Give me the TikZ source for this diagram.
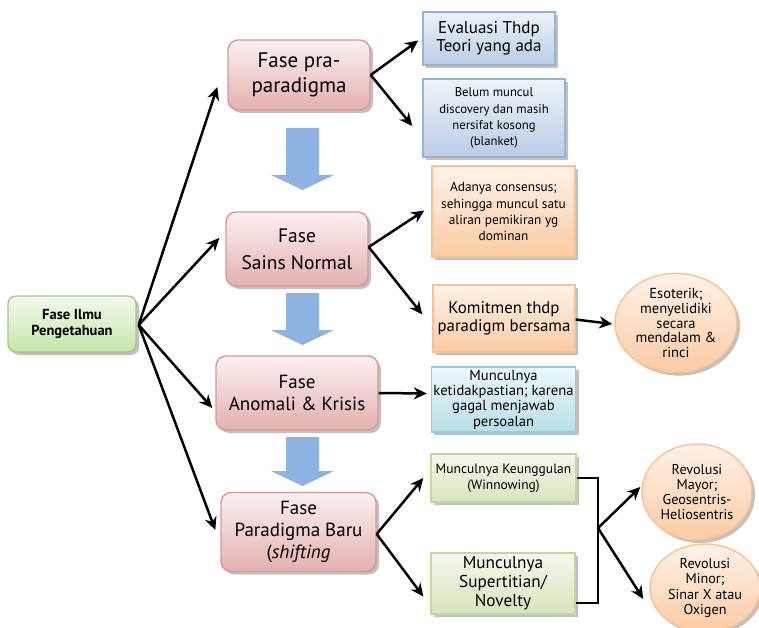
\documentclass[tikz,border=0pt]{standalone}
\usepackage{fontspec}
\setmainfont{PT Sans}
\usetikzlibrary{shadows,arrows.meta,shapes.geometric,calc}
\definecolor{pinkB}{HTML}{D99694}\definecolor{pinkT}{HTML}{FBF1F1}\definecolor{pinkM}{HTML}{E3B0AF}
\definecolor{blueB}{HTML}{95B3D7}\definecolor{blueT}{HTML}{EEF3F9}\definecolor{blueM}{HTML}{B9CDE5}
\definecolor{orgB}{HTML}{FAC090}\definecolor{orgT}{HTML}{FEF2E8}\definecolor{orgM}{HTML}{FBCBA3}
\definecolor{grnB}{HTML}{C3D69B}\definecolor{grnT}{HTML}{F4F8EC}\definecolor{grnM}{HTML}{D7E4BD}
\definecolor{cyaB}{HTML}{93CDDD}\definecolor{cyaT}{HTML}{EEF8FA}\definecolor{cyaM}{HTML}{B7DEE8}
\definecolor{bigArr}{HTML}{8DB3E2}
\newcommand\myfsz[2]{\fontsize{#1}{\fpeval{#1*#2}}\selectfont}
\tikzset{
  shade/.style={drop shadow={shadow xshift=3pt,shadow yshift=-3pt,fill=black!35,opacity=0.7}},
  base/.style={shade,align=center,inner sep=2pt,line width=1.4pt},
  phase/.style={base,rounded corners=10pt,draw=pinkB,top color=pinkT,bottom color=pinkM},
  rootbox/.style={base,rounded corners=8pt,draw=grnB!90!black,top color=grnT,bottom color=grnM!90!green},
  bluebox/.style={base,draw=blueB,top color=blueT,bottom color=blueM},
  orgbox/.style={base,draw=orgB,top color=orgT,bottom color=orgM},
  grnbox/.style={base,draw=grnB,top color=grnT,bottom color=grnM},
  cyabox/.style={base,draw=cyaB,top color=cyaT,bottom color=cyaM},
  oval/.style={base,ellipse,draw=orgB,top color=orgT,bottom color=orgM,inner sep=0pt},
  conn/.style={line width=2.5pt,-{Stealth[length=13pt,width=12pt]}},
  brk/.style={line width=1.8pt},
  fs/.style n args={2}{font=\myfsz{#1}{#2}}
}
\begin{document}
\begin{tikzpicture}[x=1pt,y=-1pt]
\useasboundingbox (0,0) rectangle (759,628);
% big blue arrows
\foreach \t/\b in {128/190,293/345,437/486}{
  \fill[bigArr] (286,\t) -- (319,\t) -- (319,\b-15) -- (334,\b-15) -- (302.5,\b) -- (271,\b-15) -- (286,\b-15) -- cycle;
}
\node[rootbox,minimum width=128pt,minimum height=56pt,font={\bfseries\myfsz{14.5}{1.08}}] (root) at (72,324) {Fase Ilmu\\Pengetahuan};
\node[phase,minimum width=142pt,minimum height=70pt,fs={21}{1.2}] (pra) at (299,75) {Fase pra-\\paradigma};
\node[phase,minimum width=142pt,minimum height=74pt,fs={19.5}{1.38}] (sains) at (297,249) {Fase\\Sains Normal};
\node[phase,minimum width=162pt,minimum height=74pt,fs={19}{1.2}] (anom) at (297,393) {Fase\\Anomali \& Krisis};
\node[phase,minimum width=155pt,minimum height=79pt,fs={19}{1.18}] (baru) at (298.5,532) {Fase\\Paradigma Baru\\(\textit{shifting}};
\node[bluebox,minimum width=132pt,minimum height=53pt,fs={17}{1.06}] (eval) at (489,38.5) {Evaluasi Thdp\\Teori yang ada};
\node[bluebox,minimum width=142pt,minimum height=78pt,fs={12.7}{1.27}] (belum) at (494,118) {Belum muncul\\discovery dan masih\\nersifat kosong\\(blanket)};
\node[orgbox,minimum width=143pt,minimum height=91pt,fs={13.3}{1.22}] (adanya) at (503.5,211.5) {Adanya consensus;\\sehingga muncul satu\\aliran pemikiran yg\\dominan};
\node[orgbox,minimum width=142pt,minimum height=67pt,fs={16.8}{1.07}] (komit) at (504,318.5) {Komitmen thdp\\paradigm bersama};
\node[oval,minimum width=122pt,minimum height=96pt,fs={14.5}{1.03}] (eso) at (676,323) {Esoterik;\\menyelidiki\\secara\\mendalam \&\\rinci};
\node[cyabox,minimum width=143pt,minimum height=65pt,fs={14.6}{1.05}] (ketid) at (503.5,399.5) {Munculnya\\ketidakpastian; karena\\gagal menjawab\\persoalan};
\node[grnbox,minimum width=145pt,minimum height=48pt,fs={13.5}{1.18}] (unggul) at (503.5,478) {Munculnya Keunggulan\\(Winnowing)};
\node[grnbox,minimum width=144pt,minimum height=61pt,fs={17.2}{1.1}] (super) at (503,583.5) {Munculnya\\Supertitian/\\Novelty};
\node[oval,minimum width=110pt,minimum height=96pt,fs={14.2}{1.07}] (mayor) at (697,492) {Revolusi\\Mayor;\\Geosentris-\\Heliosentris};
\node[oval,minimum width=110pt,minimum height=88pt,fs={14.2}{1.07}] (minor) at (705,588) {Revolusi\\Minor;\\Sinar X atau\\Oxigen};
% connectors
\coordinate (rO) at ($(root.east)+(2,1)$);
\draw[conn] (rO) -- ([xshift=-10pt,yshift=-12pt]pra.west);
\draw[conn] (rO) -- ([xshift=-6pt,yshift=11pt]sains.west);
\draw[conn] (rO) -- ([xshift=-3pt,yshift=-15pt]anom.west);
\draw[conn] (rO) -- ([xshift=-5pt,yshift=2pt]baru.west);
\draw[conn] (pra.east) -- ([xshift=-4pt,yshift=-2pt]eval.west);
\draw[conn] (pra.east) -- ([xshift=-10pt,yshift=-8pt]belum.west);
\draw[conn] ([yshift=2pt]sains.east) -- ([xshift=-7pt,yshift=1pt]adanya.west);
\draw[conn] ([yshift=2pt]sains.east) -- ([xshift=-10pt,yshift=4pt]komit.west);
\draw[conn] ([yshift=-1pt]komit.east) -- ([xshift=-2pt,yshift=-1pt]eso.west);
\draw[conn] (anom.east) -- ([xshift=-4pt,yshift=6pt]ketid.west);
\draw[conn] ([yshift=-2pt]baru.east) -- ([xshift=-7pt]unggul.west);
\draw[conn] ([yshift=-2pt]baru.east) -- ([xshift=-7pt,yshift=-13pt]super.west);
\coordinate (bT) at (598,478);
\coordinate (bB) at (598,603);
\coordinate (bM) at (598,528);
\draw[brk] (unggul.east) -- (bT) -- (bB) -- (super.east |- bB);
\draw[conn] (bM) -- ([xshift=-1pt,yshift=5pt]mayor.west);
\draw[conn] (bM) -- ([xshift=-6pt,yshift=-11pt]minor.west);
\end{tikzpicture}
\end{document}
